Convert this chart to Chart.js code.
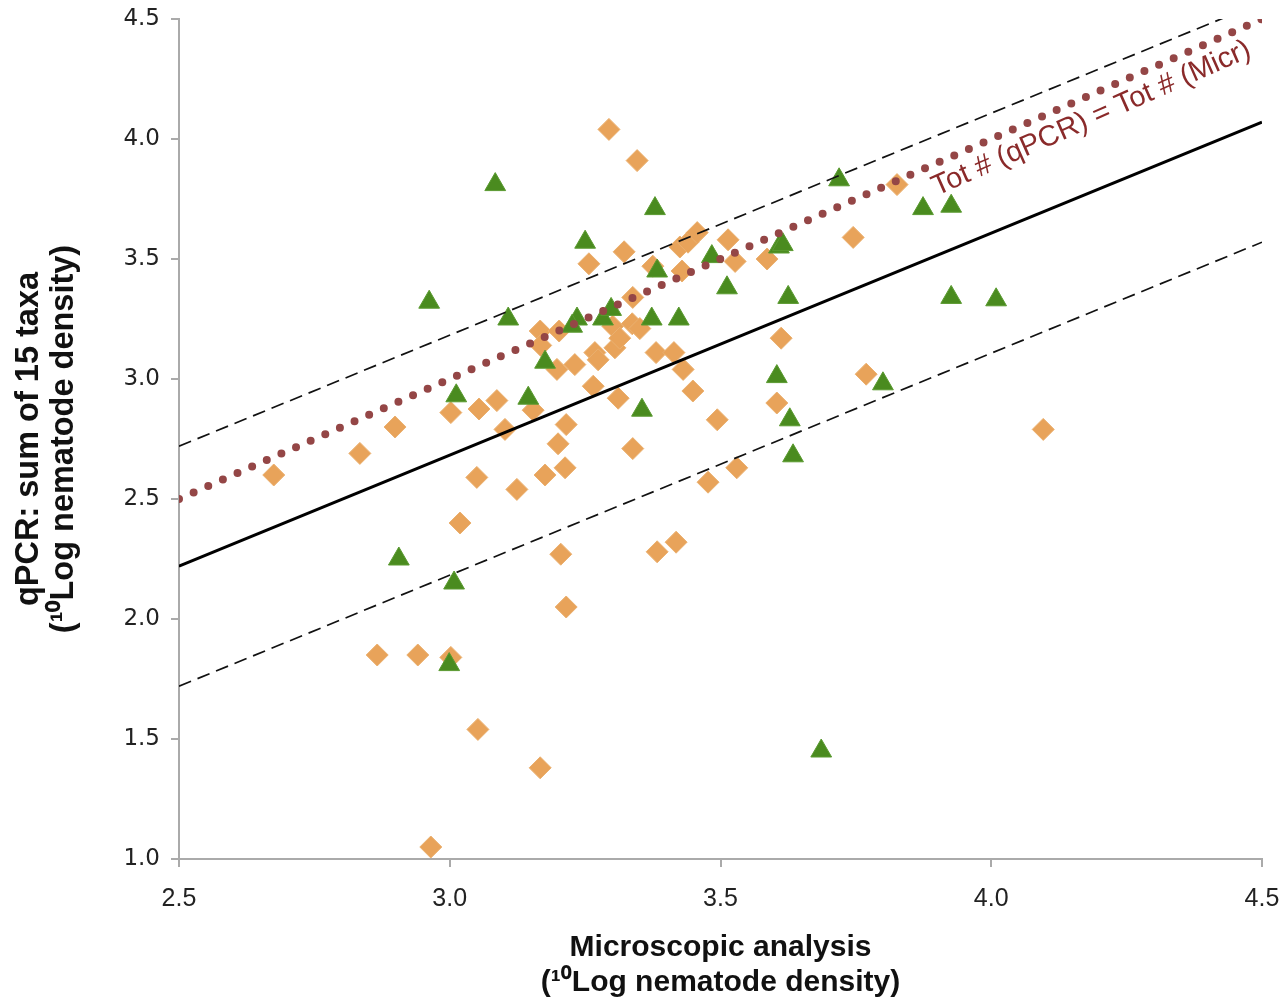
<!DOCTYPE html>
<html>
<head>
<meta charset="utf-8">
<script src="https://cdn.jsdelivr.net/npm/chart.js@4.4.1/dist/chart.umd.min.js"></script>
<style>
  body { margin: 0; background: #fff; }
  #wrap { width: 1288px; height: 1000px; }
</style>
</head>
<body>
<div id="wrap"><canvas id="chart"></canvas></div>
<script>
// microscopic analysis (x) vs qPCR sum (y), both 10log densities
const diamondX = [2.675, 2.834, 2.899, 2.866, 2.941, 2.965, 3.002, 3.002, 3.019, 3.054,
  3.050, 3.052, 3.087, 3.102, 3.124, 3.154, 3.167, 3.168, 3.176, 3.167,
  3.198, 3.202, 3.200, 3.205, 3.213, 3.215, 3.215, 3.231, 3.257, 3.265,
  3.268, 3.274, 3.294, 3.301, 3.305, 3.311, 3.314, 3.322, 3.337, 3.338,
  3.346, 3.351, 3.338, 3.375, 3.381, 3.383, 3.425, 3.414, 3.418, 3.440,
  3.429, 3.431, 3.457, 3.449, 3.477, 3.494, 3.514, 3.527, 3.530, 3.586,
  3.612, 3.604, 3.745, 3.769, 3.826, 4.096];
const diamondY = [2.60, 2.69, 2.80, 1.85, 1.85, 1.05, 1.84, 2.86, 2.40, 2.875,
  2.59, 1.54, 2.91, 2.79, 2.54, 2.87, 3.20, 3.14, 2.60, 1.38,
  3.04, 3.20, 2.73, 2.27, 2.63, 2.05, 2.81, 3.06, 3.48, 2.97,
  3.11, 3.08, 4.04, 3.22, 3.13, 2.92, 3.17, 3.53, 3.23, 2.71,
  3.91, 3.21, 3.34, 3.47, 3.11, 2.28, 3.55, 3.11, 2.32, 3.57,
  3.45, 3.04, 3.61, 2.95, 2.57, 2.83, 3.58, 3.49, 2.63, 3.50,
  3.17, 2.90, 3.59, 3.02, 3.81, 2.79];

const triangleX = [2.962, 2.906, 3.008, 3.012, 2.999, 3.084, 3.108, 3.145, 3.176, 3.235,
  3.226, 3.250, 3.283, 3.298, 3.355, 3.373, 3.379, 3.383, 3.423, 3.484,
  3.512, 3.608, 3.615, 3.604, 3.625, 3.628, 3.634, 3.686, 3.719, 3.800,
  3.874, 3.926, 3.926, 4.009];
const triangleY = [3.32, 2.25, 2.15, 2.93, 1.81, 3.81, 3.25, 2.92, 3.07, 3.25,
  3.22, 3.57, 3.25, 3.29, 2.87, 3.25, 3.71, 3.45, 3.25, 3.51,
  3.38, 3.55, 3.56, 3.01, 3.34, 2.83, 2.68, 1.45, 3.83, 2.98,
  3.71, 3.72, 3.34, 3.33];

// reference lines
const lineX = [2.5, 4.5];
const fitY = [2.22, 4.07];
const upperY = [2.72, 4.57];
const lowerY = [1.72, 3.57];
const equalY = [2.5, 4.5];

const xTicks = [2.5, 3.0, 3.5, 4.0, 4.5];
const yTicks = [1.0, 1.5, 2.0, 2.5, 3.0, 3.5, 4.0, 4.5];

const equalLabel = 'Tot # (qPCR) = Tot # (Micr)';
const labelAt = { x: 4.185, y: 4.085 };

const plain = '"Liberation Sans", Arial, sans-serif';

function pts(xs, ys) {
  return xs.map((x, i) => ({ x: x, y: ys[i] }));
}

function lineSet(ys, color, width, dash, cap) {
  return {
    type: 'line',
    data: pts(lineX, ys),
    borderColor: color,
    borderWidth: width,
    borderDash: dash,
    borderCapStyle: cap || 'butt',
    pointRadius: 0,
    fill: false,
    order: 0
  };
}

// keep the plot box fixed, labels may hang over the edges
function noPadding(scale) {
  scale.paddingTop = 0;
  scale.paddingBottom = 0;
  scale.paddingLeft = 0;
  scale.paddingRight = 0;
}

const equalLabelPlugin = {
  id: 'equalLabel',
  afterDatasetsDraw(chart) {
    const { ctx, scales } = chart;
    const x0 = scales.x.getPixelForValue(lineX[0]);
    const y0 = scales.y.getPixelForValue(equalY[0]);
    const x1 = scales.x.getPixelForValue(lineX[1]);
    const y1 = scales.y.getPixelForValue(equalY[1]);
    const angle = Math.atan2(y1 - y0, x1 - x0);
    ctx.save();
    ctx.translate(scales.x.getPixelForValue(labelAt.x), scales.y.getPixelForValue(labelAt.y));
    ctx.rotate(angle);
    ctx.font = '29px ' + plain;
    ctx.fillStyle = '#8a2a2a';
    ctx.textAlign = 'center';
    ctx.textBaseline = 'middle';
    ctx.fillText(equalLabel, 0, 0);
    ctx.restore();
  }
};

new Chart(document.getElementById('chart'), {
  type: 'scatter',
  data: {
    datasets: [
      lineSet(equalY, '#944646', 8, [0, 16], 'round'),
      lineSet(fitY, '#000000', 3, []),
      lineSet(upperY, '#111111', 1.7, [13, 7]),
      lineSet(lowerY, '#111111', 1.7, [13, 7]),
      {
        data: pts(triangleX, triangleY),
        pointStyle: 'triangle',
        pointRadius: 12,
        backgroundColor: '#4a8b1f',
        borderColor: '#5a9a30',
        borderWidth: 1,
        order: 1
      },
      {
        data: pts(diamondX, diamondY),
        pointStyle: 'rectRot',
        pointRadius: 11,
        backgroundColor: '#e8a35a',
        borderColor: '#eab070',
        borderWidth: 1,
        order: 2
      }
    ]
  },
  options: {
    responsive: true,
    maintainAspectRatio: false,
    animation: false,
    layout: { padding: { top: 19, right: 26, left: 0, bottom: 0 } },
    plugins: { legend: { display: false }, tooltip: { enabled: false } },
    scales: {
      x: {
        type: 'linear',
        min: 2.5,
        max: 4.5,
        afterFit(scale) { scale.height = 141; noPadding(scale); },
        afterBuildTicks(scale) { scale.ticks = xTicks.map(v => ({ value: v })); },
        ticks: {
          padding: 17,
          color: '#222',
          font: { family: plain, size: 25 },
          callback: v => v.toFixed(1)
        },
        grid: { drawOnChartArea: false, drawTicks: true, tickLength: 8, color: '#aaaaaa', lineWidth: 2 },
        border: { color: '#aaaaaa', width: 2 },
        title: {
          display: true,
          text: ['Microscopic analysis', '(¹⁰Log nematode density)'],
          color: '#111',
          font: { family: plain, size: 30, weight: 'bold', lineHeight: 1.167 },
          padding: { top: 0, bottom: 0 }
        }
      },
      y: {
        type: 'linear',
        min: 1.0,
        max: 4.5,
        afterFit(scale) { scale.width = 179; noPadding(scale); },
        afterBuildTicks(scale) { scale.ticks = yTicks.map(v => ({ value: v })); },
        ticks: {
          padding: 11,
          color: '#222',
          font: { family: '"DejaVu Sans", sans-serif', size: 23 },
          callback: v => v.toFixed(1)
        },
        grid: { drawOnChartArea: false, drawTicks: true, tickLength: 8, color: '#aaaaaa', lineWidth: 2 },
        border: { color: '#aaaaaa', width: 2 },
        title: {
          display: true,
          text: ['qPCR: sum of 15 taxa', '(¹⁰Log nematode density)'],
          color: '#111',
          font: { family: plain, size: 32.5, weight: 'bold', lineHeight: 1.077 },
          padding: { top: 12, bottom: 0 }
        }
      }
    }
  },
  plugins: [equalLabelPlugin]
});
</script>
</body>
</html>
